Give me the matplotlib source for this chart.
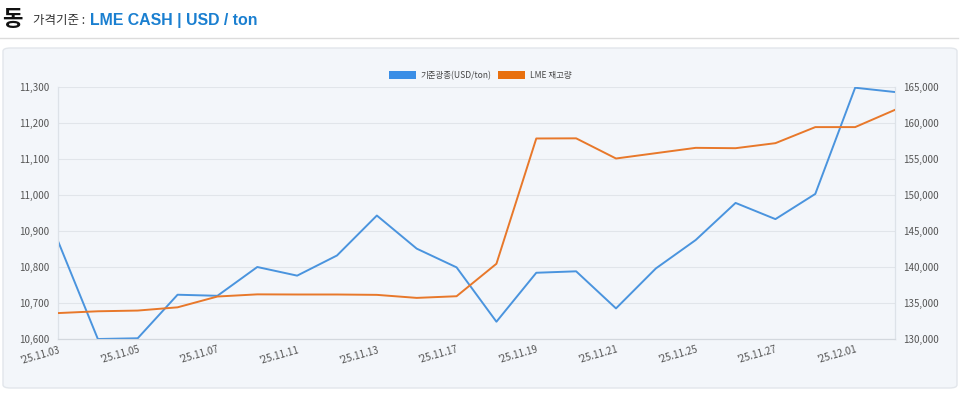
import matplotlib
matplotlib.use("Agg")
import matplotlib.pyplot as plt
from matplotlib.patches import FancyBboxPatch, Patch
from matplotlib.lines import Line2D
from matplotlib.ticker import FuncFormatter, FixedLocator
from matplotlib.transforms import ScaledTranslation

plt.rcParams['font.family'] = ['Noto Sans CJK KR', 'DejaVu Sans']

dates = ["'25.11.03", "'25.11.04", "'25.11.05", "'25.11.06", "'25.11.07",
         "'25.11.10", "'25.11.11", "'25.11.12", "'25.11.13", "'25.11.14",
         "'25.11.17", "'25.11.18", "'25.11.19", "'25.11.20", "'25.11.21",
         "'25.11.24", "'25.11.25", "'25.11.26", "'25.11.27", "'25.11.28",
         "'25.12.01", "'25.12.02"]
price = [10872, 10600, 10602, 10723, 10720, 10800, 10776, 10832, 10943, 10851,
         10799, 10648, 10784, 10788, 10685, 10796, 10875, 10978, 10933, 11003,
         11298, 11286]
stock = [133600, 133850, 133950, 134400, 135900, 136200, 136180, 136180, 136130, 135710,
         135940, 140450, 157850, 157870, 155070, 155810, 156550, 156500, 157200, 159430,
         159430, 161830]
left_ticks = [10600, 10700, 10800, 10900, 11000, 11100, 11200, 11300]
right_ticks = [130000, 135000, 140000, 145000, 150000, 155000, 160000, 165000]
series_names = ["기준광종(USD/ton)", "LME 재고량"]

W, H = 960, 394
fig = plt.figure(figsize=(W / 100, H / 100), dpi=100)
fig.patch.set_facecolor('white')

def fx(px):
    return px / W

def fy(py):
    return 1 - py / H

# panel
panel = FancyBboxPatch((fx(3), fy(388)), fx(954), 340 / H,
                       boxstyle="round,pad=0,rounding_size=0.008",
                       transform=fig.transFigure, facecolor='#f3f6fa',
                       edgecolor='#e2e6eb', linewidth=1.0, zorder=-5)
fig.patches.append(panel)

# header line
fig.add_artist(Line2D([fx(0), fx(958)], [fy(37.5), fy(37.5)], transform=fig.transFigure,
                      color='#dcdcdc', linewidth=1.0, zorder=-5))

# header texts
fig.text(fx(2), fy(26), "동", fontsize=16, fontweight='bold', color='#111111', va='baseline')
fig.text(fx(33), fy(24), "가격기준 : ", fontsize=9, color='#333333', va='baseline')
fig.text(fx(90), fy(24.5), "LME CASH | USD / ton", fontsize=11.4, fontweight='bold',
         color='#1a7fd0', va='baseline', family=['Liberation Sans', 'DejaVu Sans'])

ax = fig.add_axes([fx(58), fy(339), fx(895) - fx(58), (339 - 87) / H], zorder=2)
ax.set_facecolor('none')
ax2 = ax.twinx()

x = list(range(len(dates)))
blue = '#4a94de'
orange = '#e8782a'
ax.plot(x, price, color=blue, linewidth=1.4, zorder=3)
ax2.plot(x, stock, color=orange, linewidth=1.4, zorder=3)

ax.set_xlim(0, len(dates) - 1)
ax.set_ylim(left_ticks[0], left_ticks[-1])
ax2.set_ylim(right_ticks[0], right_ticks[-1])
ax.yaxis.set_major_locator(FixedLocator(left_ticks))
ax2.yaxis.set_major_locator(FixedLocator(right_ticks))
fmt = FuncFormatter(lambda v, p: f"{int(v):,}")
ax.yaxis.set_major_formatter(fmt)
ax2.yaxis.set_major_formatter(fmt)

ax.set_xticks(x[::2])
ax.set_xticklabels(dates[::2], rotation=16, ha='right', rotation_mode='anchor')
offset = ScaledTranslation(3 / 100, 0, fig.dpi_scale_trans)
for lbl in ax.get_xticklabels():
    lbl.set_transform(lbl.get_transform() + offset)

ax.grid(axis='y', color='#e1e5ea', linewidth=0.8)
ax.set_axisbelow(True)
for a in (ax, ax2):
    a.tick_params(length=0, labelsize=7, labelcolor='#555555')
    a.spines['top'].set_visible(False)
    a.spines['left'].set_color('#dde2e8')
    a.spines['right'].set_color('#dde2e8')
    a.spines['bottom'].set_color('#d3d8de')
    a.spines['left'].set_linewidth(0.8)
    a.spines['right'].set_linewidth(0.8)
ax.tick_params(axis='y', pad=6)
ax2.tick_params(axis='y', pad=6)
ax.tick_params(axis='x', pad=4)

handles = [Patch(facecolor='#3a8ee6', edgecolor='none'), Patch(facecolor='#e8700f', edgecolor='none')]
fig.legend(handles, series_names, loc='center', bbox_to_anchor=(fx(480), fy(75.5)),
           ncol=2, frameon=False, fontsize=6.1, handlelength=3.2, handleheight=1.05,
           handletextpad=0.55, columnspacing=0.8, labelcolor='#444444')

fig.savefig('out.png', dpi=100)
